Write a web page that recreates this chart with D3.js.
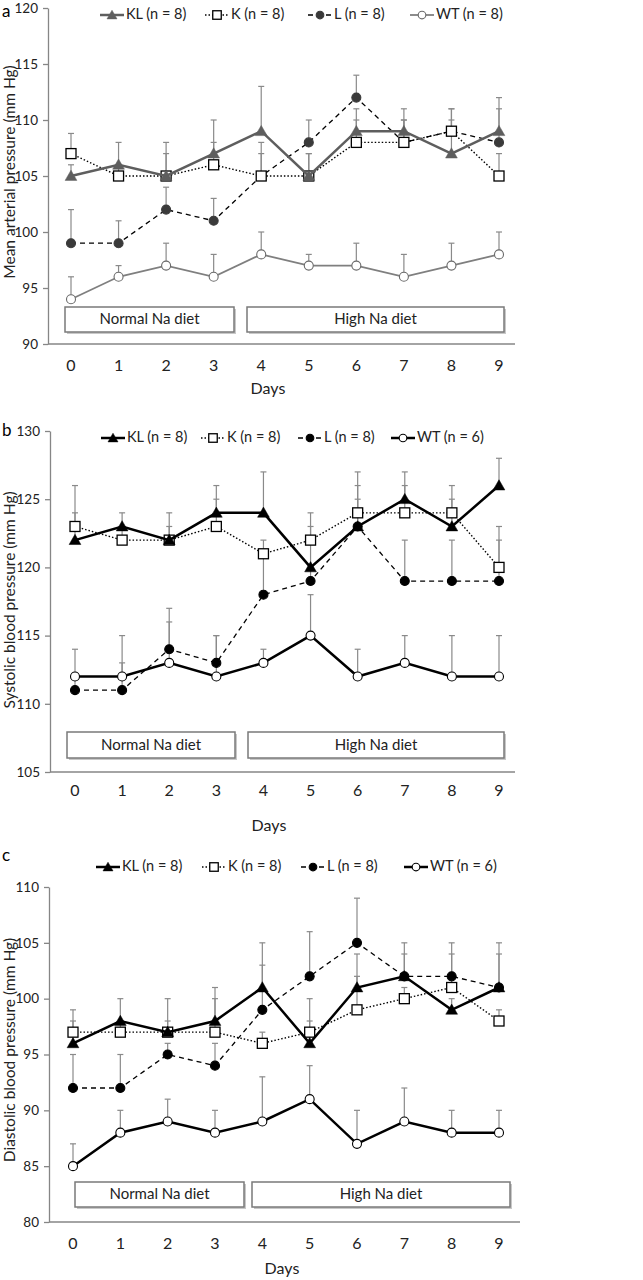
<!DOCTYPE html>
<html><head><meta charset="utf-8">
<script src="https://cdn.jsdelivr.net/npm/d3@7"></script>
<style>
body{margin:0;background:#fff;}
svg{display:block;font-family:Lato,"Open Sans",sans-serif;}
</style></head><body>
<svg id="chart" width="643" height="1280"></svg>
<script>
const days = [0,1,2,3,4,5,6,7,8,9];

// Panel a: Mean arterial pressure
const aKL = [105,106,105,107,109,105,109,109,107,109];
const aKLerr = [1,2,3,3,4,2,2,2,3,3];
const aK = [107,105,105,106,105,105,108,108,109,105];
const aKerr = [1.8,1,2,2,2,2,2,2,2,2];
const aL = [99,99,102,101,105,108,112,108,109,108];
const aLerr = [3,2,2,2,3,2,2,2,2,3];
const aWT = [94,96,97,96,98,97,97,96,97,98];
const aWTerr = [2,1,2,2,2,1,2,2,2,2];

// Panel b: Systolic blood pressure
const bKL = [122,123,122,124,124,120,123,125,123,126];
const bKLerr = [2,1,2,2,3,4,2,2,2,2];
const bK = [123,122,122,123,121,122,124,124,124,120];
const bKerr = [3,1,1,2,1,1,2,2,2,3];
const bL = [111,111,114,113,118,119,123,119,119,119];
const bLerr = [1,2,3,2,3,1,4,3,3,3];
const bWT = [112,112,113,112,113,115,112,113,112,112];
const bWTerr = [2,3,3,3,1,3,2,2,3,3];

// Panel c: Diastolic blood pressure
const cKL = [96,98,97,98,101,96,101,102,99,101];
const cKLerr = [2,2,3,2,4,2,3,2,1,4];
const cK = [97,97,97,97,96,97,99,100,101,98];
const cKerr = [2,1,1,4,1,3,3,1,3,1];
const cL = [92,92,95,94,99,102,105,102,102,101];
const cLerr = [3,3,1,2,4,4,4,3,3,3];
const cWT = [85,88,89,88,89,91,87,89,88,88];
const cWTerr = [2,2,2,2,4,3,3,3,2,2];

const legendA = ["KL (n = 8)","K (n = 8)","L (n = 8)","WT (n = 8)"];
const legendB = ["KL (n = 8)","K (n = 8)","L (n = 8)","WT (n = 6)"];
const legendC = ["KL (n = 8)","K (n = 8)","L (n = 8)","WT (n = 6)"];
const yTitles = ["Mean arterial pressure (mm Hg)","Systolic blood pressure (mm Hg)","Diastolic blood pressure (mm Hg)"];
const panelLetters = ["a","b","c"];
const dietLabels = ["Normal Na diet","High Na diet"];
const xTitle = "Days";

const svg = d3.select("#chart");

function drawPanel(p){
  const g = svg.append("g");
  const x = d3.scaleLinear().domain([0,9]).range([p.x0,p.x9]);
  const y = d3.scaleLinear().domain(p.yDomain).range([p.yBottom,p.yTop]);

  g.append("text").attr("x",2).attr("y",p.letterY).attr("font-size",17)
   .attr("dominant-baseline","middle").text(p.letter);

  const ya = g.append("g").attr("transform",`translate(${p.axisX},0)`)
    .call(d3.axisLeft(y).tickValues(d3.range(p.yDomain[0],p.yDomain[1]+1,5)).tickSize(5).tickPadding(5).tickSizeOuter(0));
  ya.select(".domain").attr("stroke","#868686").attr("stroke-width",1.3);
  ya.selectAll(".tick line").attr("stroke","#868686").attr("stroke-width",1.3);
  ya.selectAll("text").attr("font-size",13.5).attr("font-family","Lato,sans-serif").attr("fill","#222");

  g.append("line").attr("x1",p.axisX).attr("x2",p.xEnd).attr("y1",p.yBottom).attr("y2",p.yBottom)
   .attr("stroke","#868686").attr("stroke-width",1.3);
  g.selectAll(".xl").data(days).enter().append("text")
   .attr("x",d=>x(d)).attr("y",p.xLabY).attr("text-anchor","middle").attr("dominant-baseline","middle")
   .attr("font-size",16).attr("fill","#222").text(d=>d);
  g.append("text").attr("x",p.daysX).attr("y",p.daysY).attr("text-anchor","middle")
   .attr("dominant-baseline","middle").attr("font-size",16).attr("fill","#222").text(xTitle);

  g.append("text").attr("transform",`translate(${p.titleX},${p.titleY}) rotate(-90)`)
   .attr("text-anchor","middle").attr("dominant-baseline","middle").attr("font-size",15.5)
   .attr("fill","#222").text(p.yTitle);

  p.boxes.forEach((b,i)=>{
    g.append("rect").attr("x",b[0]+2).attr("y",p.boxY+2).attr("width",b[1]-b[0]).attr("height",p.boxH)
     .attr("fill","#c8c8c8");
    g.append("rect").attr("x",b[0]).attr("y",p.boxY).attr("width",b[1]-b[0]).attr("height",p.boxH)
     .attr("fill","#fff").attr("stroke","#7a7a7a").attr("stroke-width",1.5);
    g.append("text").attr("x",(b[0]+b[1])/2).attr("y",p.boxY+p.boxH/2+1).attr("text-anchor","middle")
     .attr("dominant-baseline","middle").attr("font-size",15).attr("fill","#222").text(dietLabels[i]);
  });

  p.series.forEach(s=>{
    s.vals.forEach((v,i)=>{
      const up = v + s.err[i];
      g.append("line").attr("x1",x(days[i])).attr("x2",x(days[i])).attr("y1",y(v)).attr("y2",y(up))
       .attr("stroke","#8a8a8a").attr("stroke-width",1.2);
      g.append("line").attr("x1",x(days[i])-3).attr("x2",x(days[i])+3).attr("y1",y(up)).attr("y2",y(up))
       .attr("stroke","#8a8a8a").attr("stroke-width",1.2);
    });
  });

  const line = d3.line().x((d,i)=>x(days[i])).y(d=>y(d));
  [...p.series].reverse().forEach(s=>{
    g.append("path").attr("d",line(s.vals)).attr("fill","none").attr("stroke",s.stroke)
     .attr("stroke-width",s.lw).attr("stroke-dasharray",s.dash||null);
    s.vals.forEach((v,i)=>drawMarker(g,s,x(days[i]),y(v)));
  });

  p.series.forEach((s,k)=>{
    const lx = p.legX[k];
    g.append("line").attr("x1",lx).attr("x2",lx+24).attr("y1",p.legY).attr("y2",p.legY)
     .attr("stroke",s.stroke).attr("stroke-width",s.lw).attr("stroke-dasharray",s.dash||null);
    drawMarker(g,s,lx+12,p.legY,0.85);
    g.append("text").attr("x",lx+26).attr("y",p.legY).attr("dominant-baseline","middle")
     .attr("font-size",14.5).attr("fill","#222").text(p.legend[k]);
  });
}

function drawMarker(g,s,cx,cy,scale=1){
  if(s.marker==="tri"){
    g.append("path").attr("d",d3.symbol(d3.symbolTriangle, 60*scale*scale)())
     .attr("transform",`translate(${cx},${cy+1})`).attr("fill",s.mfill).attr("stroke",s.mfill).attr("stroke-width",0.5);
  } else if(s.marker==="sq"){
    const h = 5*scale;
    g.append("rect").attr("x",cx-h).attr("y",cy-h).attr("width",2*h).attr("height",2*h)
     .attr("fill",s.mfill).attr("stroke",s.mstroke).attr("stroke-width",1.3);
  } else {
    g.append("circle").attr("cx",cx).attr("cy",cy).attr("r",4.5*scale)
     .attr("fill",s.mfill).attr("stroke",s.mstroke).attr("stroke-width",1.1);
  }
}

function makeSeries(vals,errs,gray){
  return [
    {vals:vals[0],err:errs[0],stroke:gray?"#5e5e5e":"#000",lw:2.5,marker:"tri",mfill:gray?"#5e5e5e":"#000"},
    {vals:vals[1],err:errs[1],stroke:"#000",lw:1.4,dash:"1.5,2",marker:"sq",mfill:"#fff",mstroke:"#000"},
    {vals:vals[2],err:errs[2],stroke:"#000",lw:1.3,dash:"5,4",marker:"circ",mfill:gray?"#3a3a3a":"#000",mstroke:gray?"#3a3a3a":"#000"},
    {vals:vals[3],err:errs[3],stroke:gray?"#7f7f7f":"#000",lw:gray?1.8:2.5,marker:"circ",mfill:"#fff",mstroke:gray?"#6a6a6a":"#000"}
  ];
}

drawPanel({
  letter:panelLetters[0], letterY:13, yDomain:[90,120], yTop:8, yBottom:344, axisX:48, xEnd:515,
  x0:71, x9:499, xLabY:367, daysX:268, daysY:390, titleX:11, titleY:172, yTitle:yTitles[0],
  boxes:[[65,234],[247,504]], boxY:307, boxH:25,
  legY:15, legX:[100,205,308,410], legend:legendA,
  series:makeSeries([aKL,aK,aL,aWT],[aKLerr,aKerr,aLerr,aWTerr],true)
});
drawPanel({
  letter:panelLetters[1], letterY:432, yDomain:[105,130], yTop:431, yBottom:772, axisX:50, xEnd:515,
  x0:75, x9:499, xLabY:792, daysX:269, daysY:827, titleX:11, titleY:600, yTitle:yTitles[1],
  boxes:[[67,235],[248,504]], boxY:732, boxH:26,
  legY:438, legX:[101,201,298,391], legend:legendB,
  series:makeSeries([bKL,bK,bL,bWT],[bKLerr,bKerr,bLerr,bWTerr],false)
});
drawPanel({
  letter:panelLetters[2], letterY:857, yDomain:[80,110], yTop:887, yBottom:1222, axisX:49, xEnd:520,
  x0:73, x9:499, xLabY:1245, daysX:282, daysY:1270, titleX:11, titleY:1050, yTitle:yTitles[2],
  boxes:[[75,244],[252,510]], boxY:1182, boxH:25,
  legY:867, legX:[96,202,301,404], legend:legendC,
  series:makeSeries([cKL,cK,cL,cWT],[cKLerr,cKerr,cLerr,cWTerr],false)
});
</script>
</body></html>
